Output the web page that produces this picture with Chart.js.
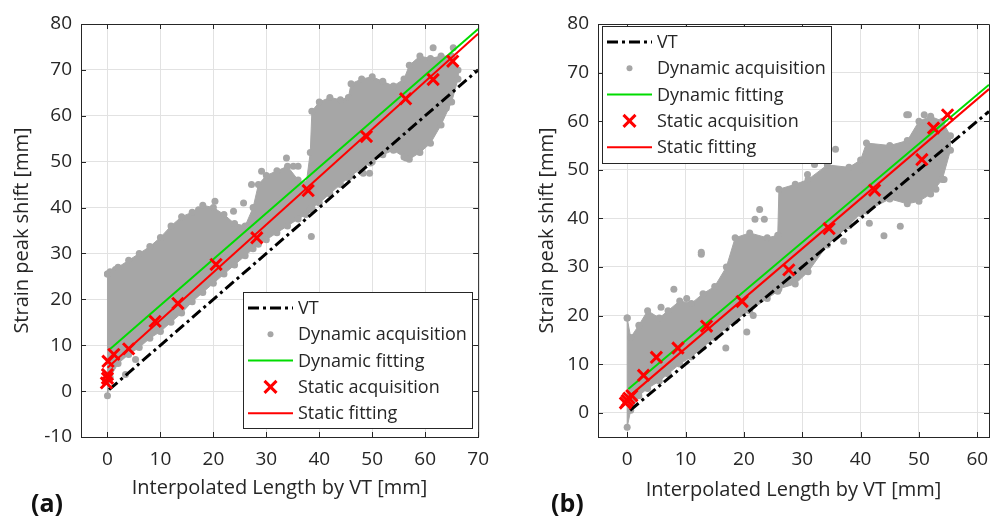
<!DOCTYPE html>
<html>
<head>
<meta charset="utf-8">
<script src="https://cdn.jsdelivr.net/npm/chart.js@4.4.1/dist/chart.umd.min.js"></script>
<style>
  html, body { margin: 0; padding: 0; background: #fff; overflow: hidden; }
  body { width: 1000px; height: 519px; position: relative; font-family: 'Open Sans', sans-serif; }
  .panel { position: absolute; top: 0; width: 500px; height: 519px; }
  .tag { position: absolute; top: 487px; font-size: 25px; font-weight: bold; line-height: 30px; color: #111; }
</style>
</head>
<body>
<div class="panel" style="left:0"><canvas id="chartA" width="500" height="519"></canvas></div>
<div class="panel" style="left:500px"><canvas id="chartB" width="500" height="519"></canvas></div>
<div class="tag" style="left:31px">(a)</div>
<div class="tag" style="left:551px">(b)</div>
<script>
// --- panel (a) ---
const aXTicks = [0, 10, 20, 30, 40, 50, 60, 70];
const aYTicks = [-10, 0, 10, 20, 30, 40, 50, 60, 70, 80];

// dense cloud of dynamic acquisitions: outline (lower / upper edge)
const aCloudX    = [0, 0.5, 2, 4, 6, 8, 10, 12, 14, 16, 18, 20, 22, 24, 26, 27.5, 28.5, 30, 32, 34, 36, 37.5, 38.3, 38.6, 40, 42, 44, 45.5, 46, 48, 50, 52, 54, 56, 57, 59, 61, 63, 65, 66.2];
const aCloudHigh = [25.5, 26, 27, 28.5, 30, 31.5, 33.5, 36, 38, 39, 40.5, 40, 38.5, 36.5, 36, 40, 45, 47, 48, 49, 46, 45, 52, 61, 63, 64, 63.5, 64, 67, 68, 68.5, 67.5, 66.5, 68, 71, 73, 72.5, 73, 73, 70];
const aCloudLow  = [-1, 3, 6, 8, 9.5, 11.5, 13, 15, 17, 19.5, 21.5, 23.5, 25.5, 27.5, 29.5, 31, 32, 33, 34.5, 36, 37.5, 38.5, 39.5, 40, 41, 43, 45, 46.5, 47, 48.5, 50, 51.5, 52.5, 51, 50.5, 52, 54, 58, 63, 68];
// scattered dynamic points outside the dense cloud
const aDotsX = [1.5, 3.4, 5.3, 8.1, 17.2, 20.3, 23.8, 25.7, 27.2, 29.1, 29.8, 33.8, 35.1, 36.0, 38.5, 48.3, 49.5, 49.7, 56.4, 56.4, 57.1, 57.7, 59.0, 59.0, 61.5, 64.0, 65.3];
const aDotsY = [26.5, 3.6, 6.9, 29.1, 39.5, 41.4, 39.2, 41.0, 45.0, 47.9, 34.5, 50.8, 49.0, 49.0, 33.7, 47.5, 47.5, 49.7, 50.8, 53.3, 53.3, 54.8, 57.7, 53.0, 74.8, 61.7, 74.8];

const aStaticX = [-0.2, 0, 0, 0.1, 1.2, 4.0, 9.0, 13.3, 20.5, 28.2, 37.9, 48.9, 56.3, 61.5, 65.2];
const aStaticY = [1.8, 2.8, 3.6, 6.5, 8.0, 9.2, 15.2, 19.1, 27.6, 33.4, 43.7, 55.5, 63.7, 67.9, 71.9];

const aVtX = [0.3, 70],  aVtY = [0.3, 70];
const aDynFitX = [0.5, 70], aDynFitY = [9.2, 78.9];
const aStaFitX = [0, 70],   aStaFitY = [5.1, 77.9];

// --- panel (b) ---
const bXTicks = [0, 10, 20, 30, 40, 50, 60];
const bYTicks = [0, 10, 20, 30, 40, 50, 60, 70, 80];

const bCloudX    = [0, 0.6, 2, 3.5, 5.5, 7, 9, 11, 13, 15, 17, 18.5, 21, 24, 25.8, 26, 28.8, 31, 34.3, 38, 40, 41, 45, 48, 50, 52, 54, 55.4];
const bCloudHigh = [19.5, 15.5, 18, 21, 19.5, 21, 23, 22.5, 24.5, 26, 30, 36, 37, 36, 36.5, 46, 47, 48, 51, 50.5, 52, 55.5, 55, 56, 60, 61, 60, 57];
const bCloudLow  = [-3, 0.5, 3.5, 5, 6.5, 8, 10, 11.5, 13.5, 15.5, 17.5, 19, 21, 23.5, 25, 25.5, 26.5, 29, 34.5, 38.5, 41, 41.5, 44, 43, 43.5, 45, 48, 54];
const bDotsX = [5.8, 8.0, 10.2, 12.7, 12.7, 16.9, 20.5, 21.6, 21.9, 22.7, 23.5, 30.9, 32.1, 35.7, 37.1, 38.8, 41.5, 44.0, 46.8, 47.9, 48.2, 50.9, 52.9, 54.3];
const bDotsY = [21.7, 25.4, 23.5, 32.6, 33.0, 13.3, 16.6, 20.0, 39.8, 41.8, 39.8, 49.0, 51.1, 54.2, 35.3, 41.2, 39.0, 36.4, 38.4, 61.3, 61.3, 61.3, 46.0, 48.0];

const bStaticX = [-0.3, 0, 0.3, 0.8, 2.8, 5.0, 8.7, 13.6, 19.7, 27.7, 34.6, 42.4, 50.5, 52.5, 54.9];
const bStaticY = [2.0, 2.5, 3.0, 3.5, 7.7, 11.4, 13.3, 17.8, 22.9, 29.4, 37.9, 45.8, 52.1, 58.6, 61.3];

const bVtX = [0.5, 62],  bVtY = [0.5, 62];
const bDynFitX = [0.2, 62], bDynFitY = [4.9, 67.5];
const bStaFitX = [0, 62],   bStaFitY = [3.0, 66.6];

const legendLabels = ['VT', 'Dynamic acquisition', 'Dynamic fitting', 'Static acquisition', 'Static fitting'];

const INK = '#262626';
const GRAY = '#a6a6a6';
const GREEN = '#00dc00';
const RED = '#ff0000';
const VT_DASH = [11, 4, 3, 4];

Chart.defaults.font.family = "'Open Sans', sans-serif";
Chart.defaults.color = INK;

const pts = (xs, ys) => xs.map((x, i) => ({ x: x, y: ys[i] }));

// outline of the cloud: along the top edge, then back along the bottom edge
function cloudOutline(xs, high, low) {
  const top = pts(xs, high);
  const bottom = pts(xs, low).reverse();
  return top.concat(bottom, [top[0]]);
}

// closes the plot box, adds inward ticks and draws the legend inside the axes
const boxAndLegend = {
  id: 'boxAndLegend',
  afterDatasetsDraw(chart, args, opts) {
    const { ctx, chartArea: a, scales } = chart;
    ctx.save();
    ctx.strokeStyle = INK;
    ctx.lineWidth = 1;
    ctx.beginPath();
    ctx.moveTo(a.left, a.top + 0.5);
    ctx.lineTo(a.right + 0.5, a.top + 0.5);
    ctx.lineTo(a.right + 0.5, a.bottom);
    scales.x.ticks.forEach(t => {
      const px = Math.round(scales.x.getPixelForValue(t.value)) + 0.5;
      ctx.moveTo(px, a.bottom); ctx.lineTo(px, a.bottom - 5);
      ctx.moveTo(px, a.top); ctx.lineTo(px, a.top + 5);
    });
    scales.y.ticks.forEach(t => {
      const py = Math.round(scales.y.getPixelForValue(t.value)) + 0.5;
      ctx.moveTo(a.left, py); ctx.lineTo(a.left + 5, py);
      ctx.moveTo(a.right, py); ctx.lineTo(a.right - 5, py);
    });
    ctx.stroke();

    const b = opts.box;
    ctx.fillStyle = '#fff';
    ctx.fillRect(b.x, b.y, b.w, b.h);
    ctx.strokeRect(b.x + 0.5, b.y + 0.5, b.w, b.h);
    ctx.font = "18px 'Open Sans', sans-serif";
    ctx.textBaseline = 'middle';
    legendLabels.forEach((label, i) => {
      const y = b.y + 16 + i * 26.3;
      const x0 = b.x + 5, x1 = b.x + 50, xm = (x0 + x1) / 2;
      ctx.save();
      if (i === 0 || i === 2 || i === 4) {
        ctx.strokeStyle = i === 0 ? '#000' : (i === 2 ? GREEN : RED);
        ctx.lineWidth = i === 0 ? 3 : 2;
        ctx.setLineDash(i === 0 ? VT_DASH : []);
        ctx.beginPath();
        ctx.moveTo(x0, y);
        ctx.lineTo(x1, y);
        ctx.stroke();
      } else if (i === 1) {
        ctx.fillStyle = GRAY;
        ctx.beginPath();
        ctx.arc(xm, y, 3, 0, Math.PI * 2);
        ctx.fill();
      } else {
        ctx.strokeStyle = RED;
        ctx.lineWidth = 3;
        ctx.beginPath();
        ctx.moveTo(xm - 6, y - 6); ctx.lineTo(xm + 6, y + 6);
        ctx.moveTo(xm + 6, y - 6); ctx.lineTo(xm - 6, y + 6);
        ctx.stroke();
      }
      ctx.restore();
      ctx.fillStyle = INK;
      ctx.fillText(label, b.x + 55, y + 1);
    });
    ctx.restore();
  }
};

function buildDatasets(d) {
  return [
    { // static acquisition (on top)
      data: pts(d.staticX, d.staticY), order: 0,
      pointStyle: 'crossRot', pointRadius: 8, borderColor: RED, borderWidth: 3, showLine: false
    },
    { data: pts(d.staFitX, d.staFitY), order: 1, showLine: true, borderColor: RED, borderWidth: 2, pointRadius: 0 },
    { data: pts(d.dynFitX, d.dynFitY), order: 2, showLine: true, borderColor: GREEN, borderWidth: 2, pointRadius: 0 },
    { data: pts(d.vtX, d.vtY), order: 3, showLine: true, borderColor: '#000', borderWidth: 3, borderDash: VT_DASH, pointRadius: 0 },
    { // dense dynamic cloud, filled outline
      data: cloudOutline(d.cloudX, d.cloudHigh, d.cloudLow), order: 4, showLine: true, fill: 'shape',
      borderColor: GRAY, backgroundColor: GRAY, borderWidth: 1,
      pointRadius: 3.5, pointBackgroundColor: GRAY, pointBorderWidth: 0
    },
    {
      data: pts(d.dotsX, d.dotsY), order: 5, showLine: false,
      pointRadius: 3.5, pointBackgroundColor: GRAY, pointBorderWidth: 0
    }
  ];
}

function axis(min, max, ticks, title, isX, fit, tickPad, titlePad) {
  return {
    type: 'linear', min: min, max: max,
    afterBuildTicks: s => { s.ticks = ticks.map(v => ({ value: v })); },
    afterFit: s => { if (isX) s.height = fit; else s.width = fit; },
    grid: { color: '#e2e2e2', lineWidth: 1, drawTicks: false },
    border: { color: INK, width: 1 },
    ticks: { font: { size: 19 }, color: INK, padding: tickPad, maxRotation: 0, autoSkip: false },
    title: { display: true, text: title, font: { size: 20 }, color: INK, padding: titlePad }
  };
}

function makeChart(id, d, cfg) {
  new Chart(document.getElementById(id), {
    type: 'scatter',
    data: { datasets: buildDatasets(d) },
    options: {
      responsive: false,
      animation: false,
      events: [],
      layout: { padding: cfg.padding },
      plugins: { legend: { display: false }, tooltip: { enabled: false }, boxAndLegend: { box: cfg.box } },
      scales: {
        x: axis(cfg.xMin, cfg.xMax, d.xTicks, 'Interpolated Length by VT [mm]', true, 82, 11, { top: 0, bottom: cfg.xTitleBottom }),
        y: axis(cfg.yMin, 80, d.yTicks, 'Strain peak shift [mm]', false, cfg.yWidth, 9, { top: cfg.yTitleTop, bottom: 0 })
      }
    },
    plugins: [boxAndLegend]
  });
}

makeChart('chartA', {
  xTicks: aXTicks, yTicks: aYTicks,
  cloudX: aCloudX, cloudHigh: aCloudHigh, cloudLow: aCloudLow, dotsX: aDotsX, dotsY: aDotsY,
  staticX: aStaticX, staticY: aStaticY, vtX: aVtX, vtY: aVtY,
  dynFitX: aDynFitX, dynFitY: aDynFitY, staFitX: aStaFitX, staFitY: aStaFitY
}, {
  xMin: -5, xMax: 70, yMin: -10, yWidth: 81,
  padding: { top: 24, right: 21, bottom: 0, left: 0 },
  yTitleTop: 10, xTitleBottom: 19,
  box: { x: 243, y: 292, w: 229, h: 136 }
});

makeChart('chartB', {
  xTicks: bXTicks, yTicks: bYTicks,
  cloudX: bCloudX, cloudHigh: bCloudHigh, cloudLow: bCloudLow, dotsX: bDotsX, dotsY: bDotsY,
  staticX: bStaticX, staticY: bStaticY, vtX: bVtX, vtY: bVtY,
  dynFitX: bDynFitX, dynFitY: bDynFitY, staFitX: bStaFitX, staFitY: bStaFitY
}, {
  xMin: -5, xMax: 62, yMin: -5, yWidth: 98,
  padding: { top: 24, right: 1, bottom: 0, left: 0 },
  yTitleTop: 35, xTitleBottom: 17,
  box: { x: 102, y: 26, w: 229, h: 137 }
});
</script>
</body>
</html>
